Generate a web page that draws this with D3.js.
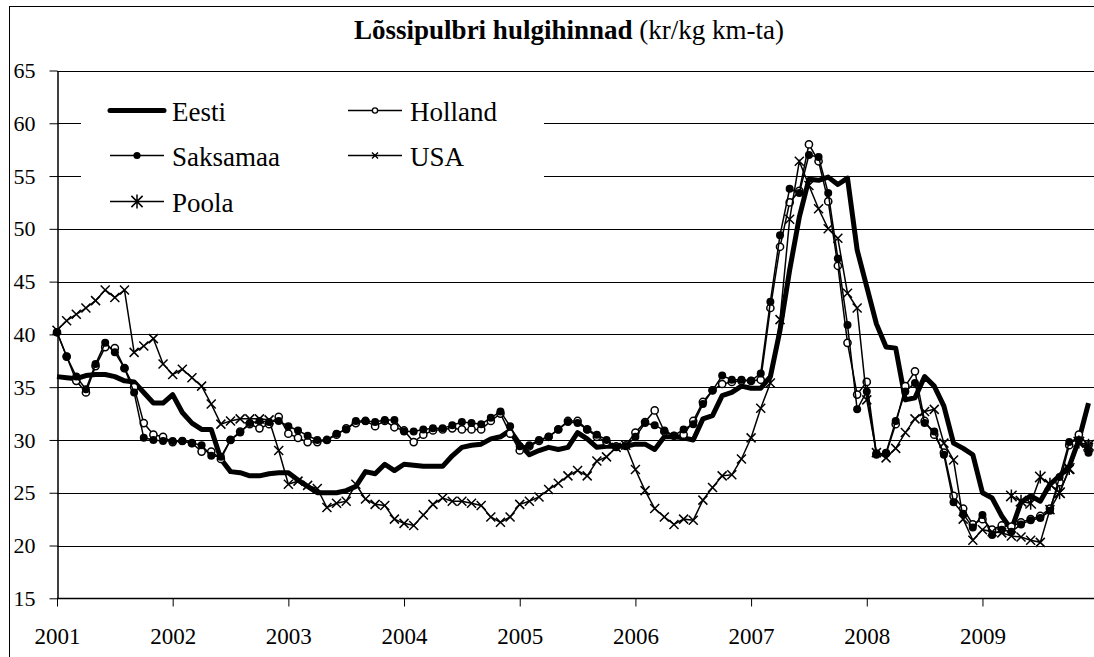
<!DOCTYPE html>
<html>
<head>
<meta charset="utf-8">
<script src="https://cdn.jsdelivr.net/npm/d3@7"></script>
<style>
  body { margin: 0; background: white; }
  svg text { font-family: "Liberation Serif", "Tinos", "DejaVu Serif", "Noto Serif", serif !important; fill: black; }
</style>
</head>
<body>
<div id="chart"></div>
<script>
// chart data, one value per month from Jan 2001
const years = ["2001", "2002", "2003", "2004", "2005", "2006", "2007", "2008", "2009"];
const yTicks = [15, 20, 25, 30, 35, 40, 45, 50, 55, 60, 65];

const eesti = [
  36.0, 35.9, 35.8, 36.1, 36.2, 36.2, 36.0, 35.6, 35.5, 34.5,
  33.5, 33.5, 34.3, 32.6, 31.6, 31.0, 31.0, 28.2, 27.0, 26.9,
  26.6, 26.6, 26.8, 26.9, 26.9, 26.2, 25.6, 25.0, 25.0, 25.0,
  25.2, 25.6, 27.0, 26.8, 27.7, 27.1, 27.7, 27.6, 27.5, 27.5,
  27.5, 28.5, 29.3, 29.5, 29.6, 30.1, 30.3, 30.9, 29.6, 28.6,
  29.0, 29.3, 29.1, 29.3, 30.7, 30.1, 29.3, 29.4, 29.4, 29.4,
  29.6, 29.6, 29.1, 30.3, 30.3, 30.2, 30.0, 32.0, 32.3, 34.2,
  34.5, 35.1, 34.9, 34.9, 36.0, 40.4, 46.1, 51.1, 54.7, 54.6,
  54.9, 54.2, 54.8, 48.0, 44.5, 41.0, 38.8, 38.7, 33.8, 34.0,
  36.0, 35.1, 33.2, 29.7, 29.2, 28.6, 25.0, 24.5, 22.8, 21.5,
  24.1, 24.7, 24.2, 25.8, 26.6, 27.5, 30.0, 33.5
];
const holland = [
  40.2, 37.9, 35.6, 34.5, 37.0, 38.8, 38.7, 36.8, 35.0, 31.6,
  30.5, 30.3, 29.8, 29.9, 29.7, 28.9, 28.9, 28.2, 30.0, 30.8,
  31.5, 31.1, 31.5, 32.2, 30.6, 30.2, 29.8, 29.8, 30.0, 30.5,
  31.1, 31.6, 31.8, 31.3, 31.8, 31.2, 30.9, 29.8, 30.5, 30.9,
  31.0, 31.1, 31.0, 31.0, 31.0, 31.8, 32.5, 30.6, 29.0, 29.4,
  29.9, 30.3, 31.0, 31.8, 31.8, 31.0, 30.3, 29.8, 29.4, 29.5,
  30.7, 31.7, 32.8, 30.8, 30.4, 30.5, 31.8, 33.6, 34.7, 35.3,
  35.5, 35.6, 35.6, 35.7, 42.5, 48.3, 52.5, 53.6, 58.0, 56.4,
  52.6, 46.5, 39.2, 34.3, 35.5, 28.7, 28.7, 31.5, 35.1, 36.5,
  31.8, 30.5, 28.8, 24.7, 23.5, 22.0, 22.5, 21.5, 21.9, 21.8,
  22.2, 22.5, 22.8, 23.5, 26.0, 29.5, 30.5, 29.5
];
const saksamaa = [
  40.2, 37.9, 36.0, 34.8, 37.2, 39.2, 38.3, 36.8, 34.5, 30.2,
  30.0, 29.9, 29.9, 29.9, 29.7, 29.5, 28.5, 28.4, 30.0, 30.7,
  31.6, 31.8, 31.7, 31.8, 31.3, 30.9, 30.4, 30.0, 30.0, 30.6,
  31.0, 31.8, 31.8, 31.7, 31.9, 31.9, 30.8, 30.8, 31.0, 31.1,
  31.1, 31.4, 31.7, 31.6, 31.5, 32.1, 32.7, 31.3, 29.4, 29.5,
  30.0, 30.3, 31.0, 31.7, 31.6, 31.0, 30.5, 30.0, 29.3, 29.4,
  30.3, 31.6, 31.4, 30.9, 30.4, 31.0, 31.5, 33.4, 34.7, 36.1,
  35.7, 35.7, 35.6, 36.3, 43.1, 49.4, 53.8, 53.4, 57.0, 56.8,
  53.4, 47.2, 40.9, 32.9, 34.6, 28.6, 28.8, 31.8, 34.6, 35.4,
  31.6, 30.8, 28.6, 24.1, 23.0, 21.7, 22.9, 21.0, 21.5, 21.3,
  22.0, 22.4, 22.6, 23.3, 26.5, 29.8, 30.0, 28.8
];
const usa = [
  40.4, 41.3, 41.9, 42.5, 43.2, 44.2, 43.5, 44.2, 38.3, 38.9,
  39.6, 37.2, 36.2, 36.7, 35.9, 35.1, 33.4, 31.5, 31.8, 32.0,
  32.0, 32.0, 31.9, 29.0, 25.8, 26.1, 25.7, 25.4, 23.6, 24.0,
  24.2, 25.8, 24.4, 23.9, 23.8, 22.5, 22.1, 21.9, 22.9, 23.9,
  24.5, 24.2, 24.2, 24.0, 23.8, 22.7, 22.2, 22.7, 23.9, 24.2,
  24.6, 25.3, 25.9, 26.6, 27.1, 26.6, 28.0, 28.4, 29.3, 29.5,
  27.2, 25.2, 23.5, 22.7, 22.0, 22.5, 22.4, 24.3, 25.5, 26.6,
  26.7, 28.2, 30.2, 33.0, 35.4, 41.4, 50.9, 56.4, 54.1, 51.9,
  50.0, 49.1, 43.9, 42.5, 33.8, 28.8, 28.3, 29.2, 30.7, 32.0,
  32.7, 32.9, 29.7, 28.1, 22.5, 20.5, 21.5, 21.3, 21.2, 20.9,
  20.8, 20.5, 20.3, 23.4, 25.0, 27.2, 29.7, 29.3
];
// Poola only has prices from Apr 2009
const poolaFirstMonth = 99;
const poolaValues = [24.7, 24.2, 24.0, 26.5, 25.8, 25.0, 27.3, 29.8, 29.5];
const poola = Array(poolaFirstMonth).fill(null).concat(poolaValues);

const width = 1094;
const height = 657;
const serif = "'Liberation Serif', 'Tinos', 'DejaVu Serif', 'Noto Serif', serif";

const svg = d3.select("#chart")
  .append("svg")
  .attr("width", width)
  .attr("height", height)
  .style("font-family", serif);

//scales, plot runs off the right edge like the original picture
const x = d3.scaleLinear()
  .domain([0, 107])
  .range([57, 1088.5]);

const y = d3.scaleLinear()
  .domain([15, 65])
  .range([598.3, 70.5]);

//outer chart border
svg.append("rect")
  .attr("x", 9.5)
  .attr("y", 6.5)
  .attr("width", 1100)
  .attr("height", 700)
  .attr("fill", "white")
  .attr("stroke", "black")
  .attr("stroke-width", 1);

//title, bold part + normal part
const title = svg.append("text")
  .attr("x", 569)
  .attr("y", 39)
  .attr("text-anchor", "middle")
  .style("font-family", serif)
  .attr("font-size", "27px");
title.append("tspan").attr("font-weight", "bold").text("Lõssipulbri hulgihinnad");
title.append("tspan").text(" (kr/kg km-ta)");

//horizontal gridlines
svg.append("g")
  .selectAll("line")
  .data(yTicks.filter(d => d > 15))
  .enter()
  .append("line")
  .attr("x1", x(0))
  .attr("x2", width)
  .attr("y1", d => Math.round(y(d)) + 0.5)
  .attr("y2", d => Math.round(y(d)) + 0.5)
  .attr("stroke", "black")
  .attr("stroke-width", 1);

//y axis
const yAxis = svg.append("g")
  .attr("transform", "translate(57.5,0)")
  .call(d3.axisLeft(y).tickValues(yTicks).tickSize(8).tickSizeOuter(0).tickPadding(14));
yAxis.attr("font-family", null);
yAxis.selectAll("text").attr("font-size", "22px").style("font-family", serif);
yAxis.select(".domain").attr("stroke-width", 1.5);

//x axis, ticks at each January
const xAxis = svg.append("g")
  .attr("transform", "translate(0," + (Math.round(y(15)) + 0.5) + ")")
  .call(d3.axisBottom(x)
    .tickValues(years.map((d, i) => i * 12))
    .tickFormat((d, i) => years[i])
    .tickSize(8)
    .tickSizeOuter(0)
    .tickPadding(21));
xAxis.attr("font-family", null);
xAxis.select(".domain").remove();
xAxis.append("line")
  .attr("x1", x(0))
  .attr("x2", width)
  .attr("stroke", "black")
  .attr("stroke-width", 1.5);
xAxis.selectAll("text").attr("font-size", "23px").style("font-family", serif);

// --------------------
// SERIES
// --------------------
const line = d3.line()
  .defined(d => d != null)
  .x((d, i) => x(i))
  .y(d => y(d));

const marks = svg.append("g");

function xPath(s) {
  return `M${-s},${-s}L${s},${s}M${-s},${s}L${s},${-s}`;
}
function starPath(s) {
  return xPath(s * 0.8) + `M0,${-s}L0,${s}`;
}

//Eesti: thick line, no markers
marks.append("path")
  .datum(eesti)
  .attr("fill", "none")
  .attr("stroke", "black")
  .attr("stroke-width", 5)
  .attr("stroke-linejoin", "round")
  .attr("d", line);

//Holland: thin line, open circles
marks.append("path")
  .datum(holland)
  .attr("fill", "none")
  .attr("stroke", "black")
  .attr("stroke-width", 1.5)
  .attr("d", line);
marks.append("g")
  .selectAll("circle")
  .data(holland)
  .enter()
  .append("circle")
  .attr("cx", (d, i) => x(i))
  .attr("cy", d => y(d))
  .attr("r", 3.6)
  .attr("fill", "white")
  .attr("stroke", "black")
  .attr("stroke-width", 1.5);

//Saksamaa: thin line, filled dots
marks.append("path")
  .datum(saksamaa)
  .attr("fill", "none")
  .attr("stroke", "black")
  .attr("stroke-width", 1.5)
  .attr("d", line);
marks.append("g")
  .selectAll("circle")
  .data(saksamaa)
  .enter()
  .append("circle")
  .attr("cx", (d, i) => x(i))
  .attr("cy", d => y(d))
  .attr("r", 4)
  .attr("fill", "black");

//USA: thin line, x markers
marks.append("path")
  .datum(usa)
  .attr("fill", "none")
  .attr("stroke", "black")
  .attr("stroke-width", 1.5)
  .attr("d", line);
marks.append("g")
  .selectAll("path")
  .data(usa)
  .enter()
  .append("path")
  .attr("transform", (d, i) => `translate(${x(i)},${y(d)})`)
  .attr("d", xPath(4.5))
  .attr("stroke", "black")
  .attr("stroke-width", 1.5);

//Poola: thin line, asterisks
marks.append("path")
  .datum(poola)
  .attr("fill", "none")
  .attr("stroke", "black")
  .attr("stroke-width", 1.5)
  .attr("d", line);
marks.append("g")
  .selectAll("path")
  .data(poola.map((d, i) => ({ v: d, i: i })).filter(d => d.v != null))
  .enter()
  .append("path")
  .attr("transform", d => `translate(${x(d.i)},${y(d.v)})`)
  .attr("d", starPath(6.5))
  .attr("stroke", "black")
  .attr("stroke-width", 1.5);

// --------------------
// LEGEND
// --------------------
svg.append("rect")
  .attr("x", 81)
  .attr("y", 72)
  .attr("width", 463)
  .attr("height", 146)
  .attr("fill", "white");

const legendItems = [
  { name: "Eesti", col: 0, row: 0, kind: "thick" },
  { name: "Holland", col: 1, row: 0, kind: "open" },
  { name: "Saksamaa", col: 0, row: 1, kind: "dot" },
  { name: "USA", col: 1, row: 1, kind: "x" },
  { name: "Poola", col: 0, row: 2, kind: "star" }
];
const colX = [110, 348];
const rowY = [110.5, 155.5, 201.5];

const legend = svg.append("g");
legendItems.forEach(d => {
  const x0 = colX[d.col];
  const x1 = x0 + 54;
  const ly = rowY[d.row];
  const g = legend.append("g");
  g.append("line")
    .attr("x1", x0).attr("x2", x1)
    .attr("y1", ly).attr("y2", ly)
    .attr("stroke", "black")
    .attr("stroke-width", d.kind === "thick" ? 5 : 1.5)
    .attr("stroke-linecap", d.kind === "thick" ? "round" : "butt");
  const cx = (x0 + x1) / 2;
  if (d.kind === "open") {
    g.append("circle").attr("cx", cx).attr("cy", ly).attr("r", 2.6)
      .attr("fill", "white").attr("stroke", "black").attr("stroke-width", 1.3);
  } else if (d.kind === "dot") {
    g.append("circle").attr("cx", cx).attr("cy", ly).attr("r", 3.6).attr("fill", "black");
  } else if (d.kind === "x") {
    g.append("path").attr("transform", `translate(${cx},${ly})`)
      .attr("d", xPath(3)).attr("stroke", "black").attr("stroke-width", 1.4);
  } else if (d.kind === "star") {
    g.append("path").attr("transform", `translate(${cx},${ly})`)
      .attr("d", starPath(7)).attr("stroke", "black").attr("stroke-width", 1.5);
  }
  g.append("text")
    .attr("x", x1 + 8)
    .attr("y", ly + 10)
    .attr("font-size", "27px")
    .style("font-family", serif)
    .text(d.name);
});
</script>
</body>
</html>
